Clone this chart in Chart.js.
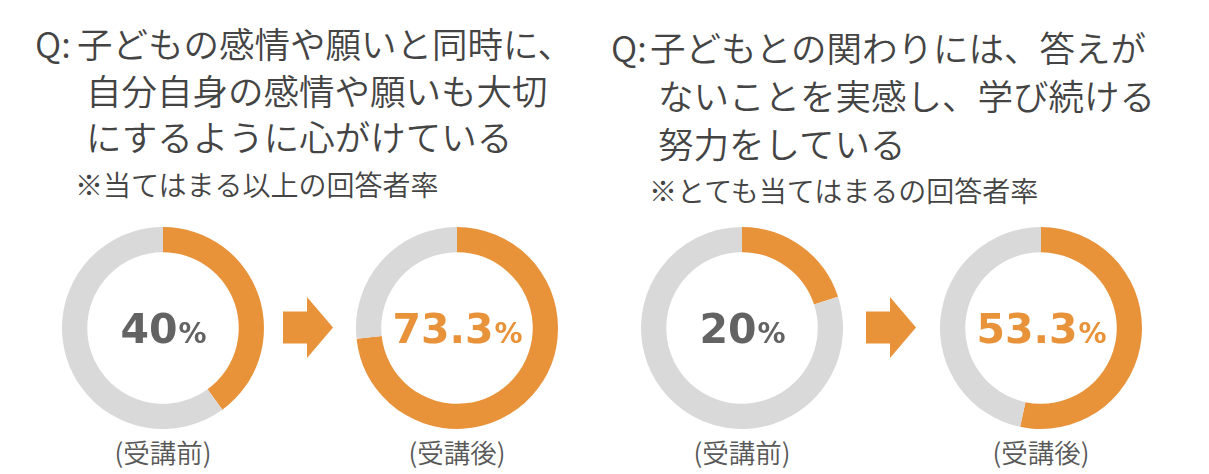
<!DOCTYPE html>
<html>
<head>
<meta charset="utf-8">
<title>受講前後の変化</title>
<script src="https://cdn.jsdelivr.net/npm/chart.js"></script>
<style>
    body { margin: 0; background: #fff; }
    #page { position: relative; width: 1209px; height: 474px; overflow: hidden; font-family: "Noto Sans CJK JP", sans-serif; }
    .t { position: absolute; white-space: nowrap; color: #444; font-size: 35.5px; line-height: 36px; font-weight: 350; }
    .note { position: absolute; white-space: nowrap; color: #444; font-size: 28px; line-height: 28px; font-weight: 350; }
    .lbl { position: absolute; width: 160px; text-align: center; color: #595959; font-size: 26.5px; line-height: 26px; font-weight: 350; }
    .ring { position: absolute; width: 202px; height: 202px; }
    .arrow { position: absolute; width: 51px; height: 61px; background: #E8923A;
        clip-path: polygon(0 14.5px, 24px 14.5px, 24px 0, 50px 30.5px, 24px 61px, 24px 46.5px, 0 46.5px); }
</style>
</head>
<body>
<div id="page">
    <div class="t" style="left:35px; top:25px">Q:</div>
    <div class="t" style="left:77px; top:25px">子どもの感情や願いと同時に、</div>
    <div class="t" style="left:86px; top:72px">自分自身の感情や願いも大切</div>
    <div class="t" style="left:86px; top:118px">にするように心がけている</div>
    <div class="note" style="left:75px; top:170px">※当てはまる以上の回答者率</div>

    <div class="t" style="left:611px; top:29px">Q:</div>
    <div class="t" style="left:650px; top:29px">子どもとの関わりには、答えが</div>
    <div class="t" style="left:658px; top:77px">ないことを実感し、学び続ける</div>
    <div class="t" style="left:658px; top:125px">努力をしている</div>
    <div class="note" style="left:649px; top:176px">※とても当てはまるの回答者率</div>

    <div class="ring" style="left:62px; top:227px"><canvas id="q1Before"></canvas></div>
    <div class="ring" style="left:356px; top:227px"><canvas id="q1After"></canvas></div>
    <div class="ring" style="left:641px; top:227px"><canvas id="q2Before"></canvas></div>
    <div class="ring" style="left:940px; top:227px"><canvas id="q2After"></canvas></div>

    <div class="arrow" style="left:283px; top:297px"></div>
    <div class="arrow" style="left:866px; top:297px"></div>

    <div class="lbl" id="l0" style="left:83px; top:439px"></div>
    <div class="lbl" id="l1" style="left:377px; top:439px"></div>
    <div class="lbl" id="l2" style="left:662px; top:439px"></div>
    <div class="lbl" id="l3" style="left:961px; top:439px"></div>
</div>

<script>
    const stages = ['(受講前)', '(受講後)']
    // 当てはまる以上
    const q1Rates = [40, 73.3]
    // とても当てはまる
    const q2Rates = [20, 53.3]

    const ORANGE = '#E8923A'
    const GRAY = '#D9D9D9'

    // draws "40%" style text in the hole
    const centerText = {
        id: 'centerText',
        afterDraw(chart, args, opts) {
            const arc = chart.getDatasetMeta(0).data[0]
            const ctx = chart.ctx
            const num = String(chart.data.datasets[0].data[0])
            ctx.save()
            ctx.font = 'bold 41px "DejaVu Sans"'
            const w1 = ctx.measureText(num).width
            ctx.font = 'bold 28px "DejaVu Sans"'
            const w2 = ctx.measureText('%').width
            let x = arc.x - (w1 + w2) / 2
            const y = arc.y + 15
            ctx.fillStyle = opts.color
            ctx.textAlign = 'left'
            ctx.textBaseline = 'alphabetic'
            ctx.font = 'bold 41px "DejaVu Sans"'
            ctx.fillText(num, x, y)
            ctx.font = 'bold 28px "DejaVu Sans"'
            ctx.fillText('%', x + w1 + 1, y)
            ctx.restore()
        }
    }

    function ring(id, value, textColor) {
        new Chart(document.getElementById(id), {
            type: 'doughnut',
            data: {
                labels: ['該当', 'その他'],
                datasets: [{
                    data: [value, Math.round((100 - value) * 10) / 10],
                    backgroundColor: [ORANGE, GRAY],
                    borderWidth: 0
                }]
            },
            options: {
                responsive: true,
                maintainAspectRatio: false,
                animation: false,
                cutout: '75%',
                layout: { padding: 0 },
                plugins: {
                    legend: { display: false },
                    tooltip: { enabled: false },
                    centerText: { color: textColor }
                }
            },
            plugins: [centerText]
        })
    }

    ring('q1Before', q1Rates[0], '#636363')
    ring('q1After', q1Rates[1], ORANGE)
    ring('q2Before', q2Rates[0], '#636363')
    ring('q2After', q2Rates[1], ORANGE)

    for (let i = 0; i < 4; i++) {
        document.getElementById('l' + i).textContent = stages[i % 2]
    }
</script>
</body>
</html>
